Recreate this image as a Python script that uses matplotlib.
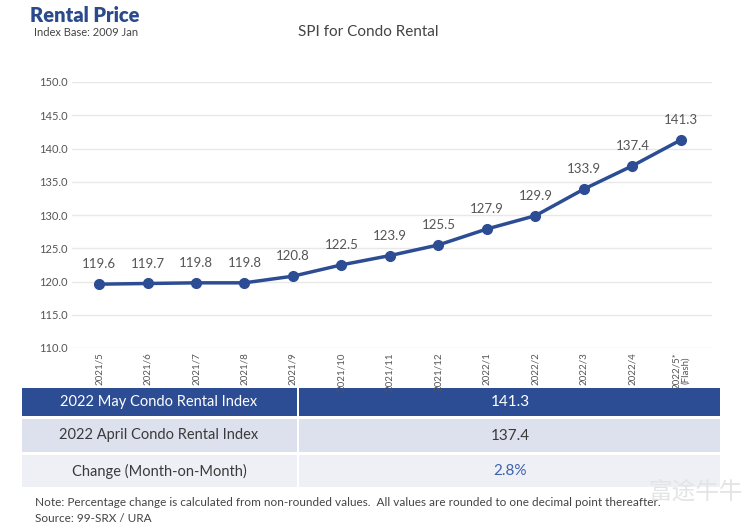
import matplotlib.pyplot as plt
from matplotlib.patches import Rectangle

months = ['2021/5', '2021/6', '2021/7', '2021/8', '2021/9', '2021/10', '2021/11',
          '2021/12', '2022/1', '2022/2', '2022/3', '2022/4', '2022/5*\n(Flash)']
spi = [119.6, 119.7, 119.8, 119.8, 120.8, 122.5, 123.9, 125.5, 127.9, 129.9, 133.9, 137.4, 141.3]

table_labels = ['2022 May Condo Rental Index', '2022 April Condo Rental Index', 'Change (Month-on-Month)']
table_values = ['141.3', '137.4', '2.8%']

BLUE = '#2c4d94'
GREY = '#555555'

plt.rcParams['font.family'] = ['Lato', 'DejaVu Sans']

fig = plt.figure(figsize=(7.5, 5.28), dpi=100)

# main line chart
ax = fig.add_axes([72/750, 1-348/528, 640/750, 266/528])
x = list(range(len(spi)))
ax.plot(x, spi, '-o', color=BLUE, lw=2.5, ms=7, zorder=3)
for i, v in enumerate(spi):
    ax.annotate('%.1f' % v, (i, v), xytext=(0, 10), textcoords='offset points',
                ha='center', va='bottom', fontsize=9.5, color=GREY)
ax.set_ylim(110, 150)
ax.set_xlim(-0.557, 12.64)
ax.set_yticks(range(110, 151, 5))
ax.set_yticklabels(['%.1f' % t for t in range(110, 151, 5)], fontsize=8, color=GREY)
ax.set_xticks(x)
ax.set_xticklabels(months, rotation=90, fontsize=7, color=GREY, linespacing=0.9)
ax.tick_params(length=0, pad=3)
ax.grid(axis='y', color='#e8e8e8', lw=1)
for s in ax.spines.values():
    s.set_visible(False)
ax.set_axisbelow(True)

# headings
fig.text(30/750, 1-15/528, 'Rental Price', fontsize=14.5, fontweight='heavy', color='#2a4a8c', va='center')
fig.text(34/750, 1-32/528, 'Index Base: 2009 Jan', fontsize=8, color='#444444', va='center')
fig.text(368/750, 1-32/528, 'SPI for Condo Rental', fontsize=11, color='#444444', va='center', ha='center')

# summary table below chart
tab = fig.add_axes([0, 0, 1, 1], zorder=-1)
tab.set_xlim(0, 750)
tab.set_ylim(528, 0)
tab.axis('off')
rows = [(388, 416), (419, 452), (455, 487)]
fills = [BLUE, '#dde1ed', '#eef0f6']
for r, (y0, y1) in enumerate(rows):
    tab.add_patch(Rectangle((22, y0), 275, y1-y0, color=fills[r], lw=0))
    tab.add_patch(Rectangle((299, y0), 421, y1-y0, color=fills[r], lw=0))
    c = 'white' if r == 0 else '#3a3a3a'
    vc = 'white' if r == 0 else ('#3d62ae' if r == 2 else '#3a3a3a')
    tab.text(159, (y0+y1)/2, table_labels[r], ha='center', va='center', fontsize=10.5, color=c)
    tab.text(510, (y0+y1)/2, table_values[r], ha='center', va='center', fontsize=11, color=vc)

tab.text(35, 503, 'Note: Percentage change is calculated from non-rounded values.  All values are rounded to one decimal point thereafter.',
         fontsize=8.5, color='#444444', va='center')
tab.text(35, 519, 'Source: 99-SRX / URA', fontsize=8.5, color='#444444', va='center')
tab.text(695, 492, '富途牛牛', fontsize=17, color='#e4e4e4', va='center', ha='center',
         family=['Noto Sans CJK SC', 'DejaVu Sans'])

fig.savefig('out.png', dpi=100)
